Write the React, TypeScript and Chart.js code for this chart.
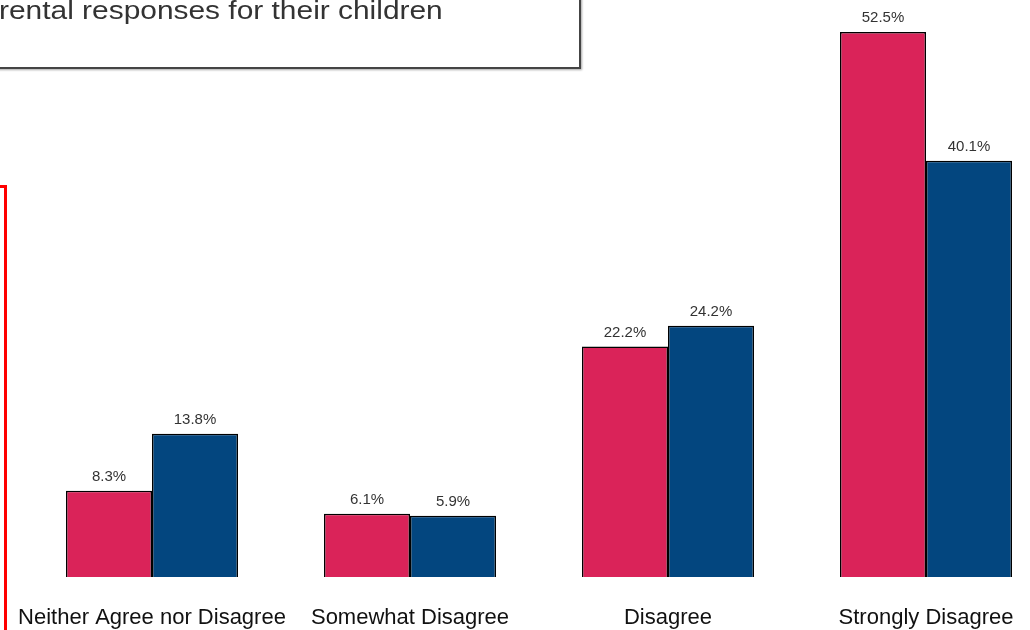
import React, { useEffect, useRef } from "react";
import { Chart, registerables } from "chart.js";

Chart.register(...registerables);

const categories = ["Neither Agree nor Disagree", "Somewhat Disagree", "Disagree", "Strongly Disagree"];
const seriesA = [8.3, 6.1, 22.2, 52.5];
const seriesB = [13.8, 5.9, 24.2, 40.1];
const titleText = "rental responses for their children";

const valueLabels = {
  id: "valueLabels",
  afterDatasetsDraw(chart: any) {
    const ctx = chart.ctx;
    ctx.save();
    ctx.font = "15px 'Liberation Sans', Arial, sans-serif";
    ctx.fillStyle = "#333333";
    ctx.textAlign = "center";
    ctx.textBaseline = "alphabetic";
    chart.data.datasets.forEach((ds: any, di: number) => {
      const meta = chart.getDatasetMeta(di);
      meta.data.forEach((bar: any, i: number) => {
        ctx.fillText(ds.data[i].toFixed(1) + "%", bar.x, bar.y - 10);
      });
    });
    ctx.restore();
  },
};

export default function App() {
  const ref = useRef<HTMLCanvasElement | null>(null);
  useEffect(() => {
    if (!ref.current) return;
    const chart = new Chart(ref.current, {
      type: "bar",
      data: {
        labels: categories,
        datasets: [
          {
            label: "A",
            data: seriesA,
            backgroundColor: "#DA2359",
            borderColor: "#000000",
            borderWidth: 1.5,
            categoryPercentage: 0.6667,
            barPercentage: 1,
          },
          {
            label: "B",
            data: seriesB,
            backgroundColor: "#03467F",
            borderColor: "#000000",
            borderWidth: 1.5,
            categoryPercentage: 0.6667,
            barPercentage: 1,
          },
        ],
      },
      options: {
        animation: false,
        responsive: false,
        maintainAspectRatio: false,
        layout: { padding: { left: 23, right: 5, top: 6, bottom: 0 } },
        plugins: { legend: { display: false }, tooltip: { enabled: false }, title: { display: false } },
        scales: {
          x: {
            grid: { display: false, drawTicks: false },
            border: { display: false },
            afterFit: (scale: any) => {
              scale.height = 53;
              scale.paddingLeft = 0;
              scale.paddingRight = 0;
            },
            ticks: {
              padding: 28,
              color: "#111111",
              font: { family: "'Liberation Sans', Arial, sans-serif", size: 22 },
              maxRotation: 0,
              autoSkip: false,
            },
          },
          y: {
            display: false,
            min: 0,
            max: 55,
          },
        },
      },
      plugins: [valueLabels],
    });
    return () => chart.destroy();
  }, []);

  return (
    <div style={{ position: "fixed", left: 0, top: 0, width: 1030, height: 630, overflow: "hidden", background: "#fff" }}>
      <canvas ref={ref} width={1060} height={630} style={{ position: "absolute", left: 0, top: 0, width: 1060, height: 630 }} />
      <div
        style={{
          position: "absolute",
          left: -20,
          top: -20,
          width: 597,
          height: 85,
          border: "2px solid #444",
          boxShadow: "1px 1px 2px rgba(0,0,0,0.35)",
          background: "#fff",
        }}
      />
      <div
        style={{
          position: "absolute",
          left: -1,
          top: -3,
          fontFamily: "'Liberation Sans', Arial, sans-serif",
          fontSize: 26,
          lineHeight: 1,
          color: "#333",
          whiteSpace: "nowrap",
          transform: "scaleX(1.15)",
          transformOrigin: "left top",
        }}
      >
        {titleText}
      </div>
      <div
        style={{
          position: "absolute",
          left: -100,
          top: 185,
          width: 101,
          height: 600,
          border: "3px solid #FF0000",
        }}
      />
    </div>
  );
}
